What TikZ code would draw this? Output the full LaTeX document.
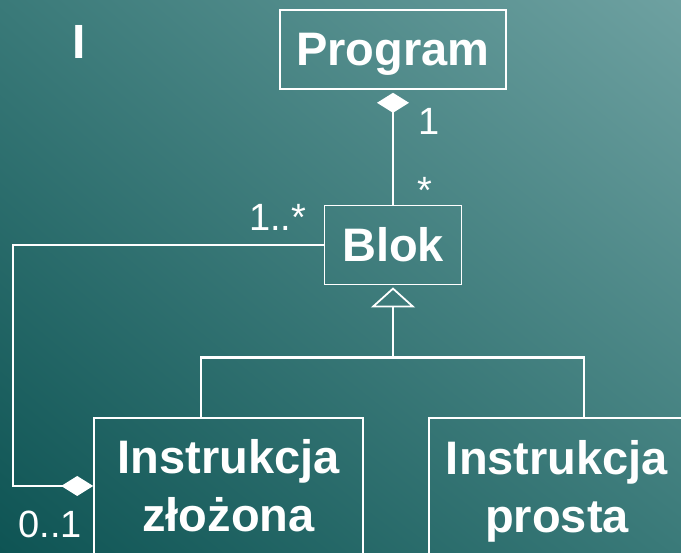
\documentclass[tikz,border=0pt]{standalone}
\usepackage{fontspec}
\setmainfont{Liberation Sans}
\usetikzlibrary{arrows.meta, positioning, shadings}

\definecolor{bgdark}{RGB}{14,84,84}
\definecolor{bgmid}{RGB}{58,122,121}
\definecolor{bglight}{RGB}{110,161,161}

\begin{document}
\begin{tikzpicture}[x=1pt, y=-1pt]
  \tikzstyle{klasa} = [draw=white, line width=1.6pt, text=white, align=center, font=\bfseries\fontsize{47}{58}\selectfont]
  \tikzstyle{mult} = [inner sep=0pt, anchor=base west, text=white, font=\fontsize{38}{44}\selectfont]
  \tikzstyle{assoc} = [draw=white, line width=1.5pt]
  \tikzstyle{tree} = [draw=white, line width=2.8pt]

  % background
  \shade[lower left=bgdark, upper right=bglight, upper left=bgmid, lower right=bgmid] (0,0) rectangle (681,553);
  \useasboundingbox (0,0) rectangle (681,553);
  \clip (0,0) rectangle (681,553);

  \node[inner sep=0pt, anchor=base west, text=white, font=\bfseries\fontsize{48}{58}\selectfont] (numer) at (72,59) {I};

  % classes
  \node[klasa, minimum width=226pt, minimum height=79pt, text depth=0pt] (Program) at (393,49.5) {Program};
  \node[klasa, minimum width=137pt, minimum height=79pt, below=115pt of Program] (Blok) {Blok};
  \node[klasa, minimum width=269pt, minimum height=136pt] (Zlozona) at (228.5,486) {Instrukcja\\złożona};
  \node[klasa, minimum width=256pt, minimum height=146pt] (Prosta) at (557,491) {Instrukcja\\prosta};

  % composition Program - Blok
  \draw[assoc, -{Diamond[length=20pt, width=32pt]}, shorten >=3pt] (Blok.north) -- (Program.south);
  \node[mult] (jeden) at (418,135) {1};
  \node[mult] (gwiazdka) at (417,204) {*};

  % composition Blok - Instrukcja zlozona
  \coordinate (lewy) at (13,360);
  \draw[assoc, -{Diamond[length=32pt, width=20pt]}] (Blok.west) -| (lewy) |- (Zlozona.west);
  \node[mult] (jedenwiele) at (249,231) {1..*};
  \node[mult] (zerojeden) at (18.5,538) {0..1};

  % generalization
  \coordinate[below=72pt of Blok.south] (split);
  \draw[tree, -{Triangle[open, length=20pt, width=44pt, line width=1.8pt]}, shorten >=2pt] (split) -- (Blok.south);
  \draw[tree] ([xshift=-27.5pt]Zlozona.north) |- (split) -| ([xshift=27pt]Prosta.north);
\end{tikzpicture}
\end{document}
